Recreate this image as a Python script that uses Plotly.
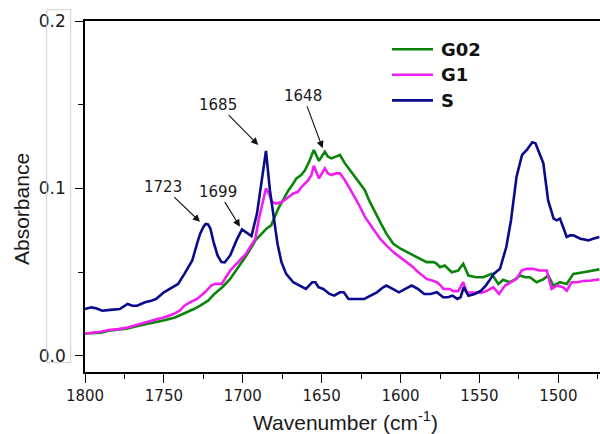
import plotly.graph_objects as go

# ---------------- data ----------------
series_names = ["G02", "G1", "S"]
series_colors = ["#0a850a", "#f01ef0", "#0a0a8c"]

s_wn = [1800, 1796, 1793, 1789, 1784, 1778, 1773, 1770, 1767, 1762, 1758, 1755, 1750, 1746,
        1741, 1737, 1732, 1729, 1727, 1725, 1723.5, 1722, 1720.5, 1718.5, 1716, 1713.5, 1711.5,
        1708, 1704, 1700.5, 1697.5, 1694.5, 1691, 1687, 1685.3, 1682.8, 1680.5, 1678, 1675.5,
        1672.5, 1668, 1664, 1660, 1656, 1654, 1652, 1649, 1645, 1642, 1638.5, 1636, 1633, 1628,
        1623, 1619, 1615, 1611, 1609, 1605, 1601, 1597, 1593, 1589, 1585, 1581, 1577, 1573, 1570,
        1567, 1564, 1562, 1560, 1557, 1553, 1549, 1546, 1543, 1541, 1537, 1533, 1530, 1526.5,
        1523, 1520, 1516.5, 1514.5, 1512, 1509.5, 1506.5, 1503, 1501, 1499, 1497, 1494.7, 1492.5,
        1490.5, 1486, 1481, 1478, 1474]
s_abs = [0.028, 0.029, 0.0285, 0.027, 0.0275, 0.028, 0.031, 0.030, 0.030, 0.032, 0.033, 0.034,
         0.038, 0.040, 0.043, 0.049, 0.057, 0.067, 0.073, 0.077, 0.0788, 0.0785, 0.076, 0.068,
         0.060, 0.0560, 0.0558, 0.060, 0.069, 0.0756, 0.0736, 0.0716, 0.085, 0.113, 0.1224,
         0.099, 0.083, 0.067, 0.056, 0.049, 0.044, 0.042, 0.040, 0.044, 0.044, 0.041, 0.040,
         0.037, 0.036, 0.038, 0.038, 0.034, 0.034, 0.034, 0.036, 0.038, 0.041, 0.042, 0.040,
         0.038, 0.040, 0.042, 0.040, 0.037, 0.037, 0.038, 0.035, 0.035, 0.036, 0.034, 0.035,
         0.041, 0.036, 0.037, 0.039, 0.042, 0.046, 0.049, 0.052, 0.065, 0.081, 0.107, 0.120,
         0.123, 0.1276, 0.127, 0.121, 0.115, 0.093, 0.082, 0.081, 0.082, 0.077, 0.071, 0.072,
         0.072, 0.070, 0.069, 0.070, 0.071]

g02_wn = [1800, 1795, 1790, 1785, 1779, 1773, 1766, 1759, 1754, 1749, 1743, 1737, 1734, 1731,
          1727, 1722, 1718, 1713, 1708, 1705, 1702, 1697, 1692, 1688, 1685, 1682, 1679.5,
          1677.5, 1674, 1671, 1668, 1666, 1663, 1660.5, 1657.5, 1655, 1651.7, 1648, 1646,
          1643.7, 1641, 1638.4, 1635.3, 1632, 1629, 1626, 1622.6, 1620, 1617.3, 1615, 1613,
          1609, 1604.6, 1600, 1596, 1592, 1587.6, 1583.5, 1579, 1577, 1575, 1572, 1567.6,
          1563.5, 1560.3, 1557, 1552, 1547.6, 1542.3, 1538, 1535, 1530.7, 1527, 1524.3, 1521,
          1518, 1513.8, 1509.6, 1506.4, 1503.2, 1501, 1499, 1494.7, 1490.5, 1484, 1479, 1474]
g02_abs = [0.0134, 0.0136, 0.0138, 0.015, 0.0155, 0.0164, 0.018, 0.0194, 0.020, 0.0214, 0.023,
           0.0254, 0.027, 0.028, 0.030, 0.033, 0.037, 0.041, 0.046, 0.050, 0.054, 0.061, 0.069,
           0.073, 0.076, 0.078, 0.084, 0.088, 0.094, 0.099, 0.103, 0.106, 0.108, 0.111, 0.117,
           0.123, 0.1165, 0.122, 0.119, 0.118, 0.119, 0.120, 0.115, 0.111, 0.107, 0.103, 0.099,
           0.093, 0.088, 0.083, 0.080, 0.073, 0.067, 0.064, 0.062, 0.060, 0.058, 0.056, 0.056,
           0.055, 0.053, 0.054, 0.050, 0.051, 0.055, 0.048, 0.047, 0.047, 0.049, 0.043, 0.0455,
           0.044, 0.046, 0.048, 0.047, 0.047, 0.044, 0.0457, 0.048, 0.042, 0.043, 0.044, 0.043,
           0.049, 0.050, 0.051, 0.0517]

g1_wn = [1800, 1795, 1790, 1785, 1779, 1773, 1766, 1759, 1754, 1749, 1744, 1740, 1737, 1733.5,
         1729, 1724, 1720, 1717.6, 1713.4, 1708, 1704, 1701.8, 1698, 1695.4, 1692, 1690, 1687.5,
         1685.3, 1683, 1681.7, 1678.5, 1675, 1672.2, 1668, 1665, 1662.7, 1658.5, 1656.5, 1655,
         1651.7, 1648, 1646, 1643.7, 1641, 1638.4, 1635.3, 1631, 1626.8, 1622.6, 1618.3, 1613,
         1609, 1604.6, 1600.4, 1596, 1592, 1590, 1587.6, 1583.5, 1580, 1577, 1574.5, 1572.8,
         1569, 1566.5, 1563.5, 1560.3, 1558, 1553, 1548.6, 1545, 1541.3, 1537.6, 1533.8, 1530,
         1526.5, 1523.3, 1520, 1516, 1512, 1507.4, 1504.3, 1501, 1497, 1494.7, 1491.6, 1488,
         1484.2, 1479, 1474]
g1_abs = [0.0134, 0.014, 0.0144, 0.0155, 0.016, 0.017, 0.019, 0.0208, 0.022, 0.0233, 0.025,
          0.027, 0.030, 0.032, 0.034, 0.038, 0.042, 0.043, 0.043, 0.051, 0.055, 0.057, 0.061,
          0.065, 0.070, 0.081, 0.092, 0.100, 0.096, 0.092, 0.091, 0.092, 0.094, 0.097, 0.098,
          0.101, 0.105, 0.108, 0.1135, 0.106, 0.112, 0.109, 0.108, 0.109, 0.109, 0.105, 0.098,
          0.091, 0.083, 0.077, 0.070, 0.066, 0.062, 0.059, 0.056, 0.053, 0.051, 0.049, 0.046,
          0.045, 0.044, 0.042, 0.040, 0.040, 0.0387, 0.0387, 0.044, 0.038, 0.0378, 0.0377,
          0.039, 0.041, 0.037, 0.042, 0.044, 0.046, 0.051, 0.052, 0.052, 0.051, 0.051, 0.040,
          0.042, 0.041, 0.039, 0.044, 0.044, 0.0447, 0.045, 0.0457]

peak_labels = ["1723", "1699", "1685", "1648"]
x_ticks = [1800, 1750, 1700, 1650, 1600, 1550, 1500]
y_ticks = [0.0, 0.1, 0.2]

# ---------------- figure ----------------
fig = go.Figure()
for name, color, wn, ab in [(series_names[0], series_colors[0], g02_wn, g02_abs),
                            (series_names[1], series_colors[1], g1_wn, g1_abs),
                            (series_names[2], series_colors[2], s_wn, s_abs)]:
    fig.add_trace(go.Scatter(x=wn, y=ab, mode="lines", name=name,
                             line=dict(color=color, width=2.6), showlegend=False))

# peak annotations: label placed at the arrow tail, arrow points to the peak
text_pos = [(1750.4, 0.1011), (1715.5, 0.0981), (1715.5, 0.150), (1661.7, 0.1553)]
arrow_head = [(1727.1, 0.0801), (1701.8, 0.0772), (1690.2, 0.1260), (1649.4, 0.1240)]
annotations = []
for lab, (tx, ty), (hx, hy) in zip(peak_labels, text_pos, arrow_head):
    annotations.append(dict(x=hx, y=hy, xref="x", yref="y", ax=tx, ay=ty, axref="x", ayref="y",
                            text=lab, showarrow=True, arrowhead=2, arrowsize=1.3,
                            arrowwidth=1.1, arrowcolor="#111111", standoff=0,
                            font=dict(family="DejaVu Sans", size=15, color="#1a1a1a")))

# axis titles
annotations.append(dict(x=0.505, y=-0.1407, xref="paper", yref="paper",
                        text="Wavenumber (cm<sup>-1</sup>)", showarrow=False,
                        font=dict(family="Liberation Sans, Arial", size=21, color="#1a1a1a"),
                        xanchor="center", yanchor="middle"))
annotations.append(dict(x=-0.1243, y=0.4643, xref="paper", yref="paper",
                        text="Absorbance", showarrow=False, textangle=-90,
                        font=dict(family="Liberation Sans, Arial", size=21, color="#1a1a1a"),
                        xanchor="center", yanchor="middle"))

# manual legend (paper coords derived from plot area 85..600 x 21.3..371.7)
shapes = []
leg_y_px = [49.5, 75.0, 100.5]
for name, color, ypx in zip(series_names, series_colors, leg_y_px):
    yp = (371.7 - ypx) / 350.4
    shapes.append(dict(type="line", xref="paper", yref="paper",
                       x0=(392 - 85) / 515, x1=(433 - 85) / 515, y0=yp, y1=yp,
                       line=dict(color=color, width=2.6)))
    annotations.append(dict(x=(439 - 85) / 515, y=yp, xref="paper", yref="paper",
                            text="<b>" + name + "</b>", showarrow=False,
                            font=dict(family="DejaVu Sans", size=18, color="#111111"),
                            xanchor="left", yanchor="middle"))

# light gray frame around the y tick labels
shapes.append(dict(type="rect", xref="paper", yref="paper",
                   x0=(46.7 - 85) / 515, x1=(70.7 - 85) / 515,
                   y0=(371.7 - 362.3) / 350.4, y1=(371.7 - 10) / 350.4,
                   line=dict(color="#d0d0d0", width=1), fillcolor="rgba(0,0,0,0)"))

fig.update_layout(
    width=600, height=434,
    margin=dict(l=85, r=0, t=21, b=62),
    paper_bgcolor="white", plot_bgcolor="white",
    showlegend=False,
    annotations=annotations,
    shapes=shapes,
    xaxis=dict(range=[1800, 1473.6], tickvals=x_ticks, ticks="outside", ticklen=9,
               tickwidth=1.2, tickcolor="black", showline=True, linecolor="black",
               linewidth=1.6, mirror=True, showgrid=False, zeroline=False,
               tickfont=dict(family="DejaVu Sans", size=15, color="#1a1a1a"),
               minor=dict(dtick=25, tick0=1800, ticks="outside", ticklen=5,
                          tickcolor="black", tickwidth=1.2, showgrid=False)),
    yaxis=dict(range=[-0.0096, 0.2], tickvals=y_ticks, tickformat=".1f", ticks="outside",
               ticklen=8, tickwidth=1.2, tickcolor="black", showline=True, linecolor="black",
               linewidth=1.6, mirror=False, showgrid=False, zeroline=False,
               ticklabelstandoff=6,
               tickfont=dict(family="DejaVu Sans", size=17, color="#1a1a1a"),
               minor=dict(dtick=0.05, tick0=0, ticks="outside", ticklen=5,
                          tickcolor="black", tickwidth=1.2, showgrid=False)),
)

fig.write_html("out.html", config={"displayModeBar": False},
               post_script="document.body.style.margin='0px';document.body.style.overflow='hidden';")
